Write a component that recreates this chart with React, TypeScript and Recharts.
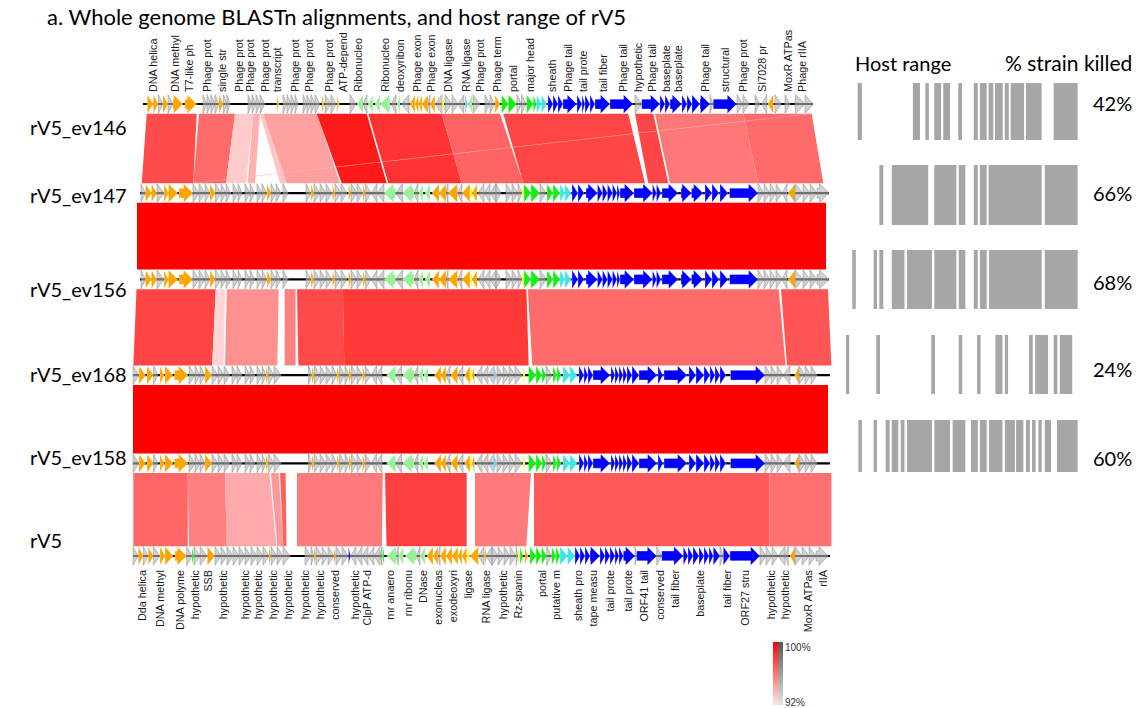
import React from 'react';
import { ComposedChart, XAxis, YAxis, ReferenceArea, Scatter } from 'recharts';

// ---------- genome axis (kb) and row axis ----------
const GENOME_DOMAIN: [number, number] = [0, 140];
const ROW_DOMAIN: [number, number] = [-0.1, 5.1];

const ROW_NAMES = ['rV5_ev146', 'rV5_ev147', 'rV5_ev156', 'rV5_ev168', 'rV5_ev158', 'rV5'];
const ROW_Y = [0, 0.985, 1.94, 3.0, 3.975, 5.0];
const ROW_LABEL_Y = [0.254, 1.007, 2.046, 2.987, 3.905, 4.823];
const BACKBONES: [number, number][] = [[2.6, 136.6], [2.0, 139.8], [2.0, 139.8], [0.6, 140], [0.6, 140], [0.6, 140]];

// gene: [start kb, end kb, strand, colour key]
type Gene = [number, number, number, string];

const GENES_EV146: Gene[] = [
  [3.46, 4.66, 1, 'o'], [4.66, 5.66, 1, 'o'], [5.66, 6.6, 1, 'g'], [6.6, 7.6, 1, 'o'], [7.6, 8.6, 1, 'g'], [8.6, 10.6, 1, 'o'], [11.0, 13.34, 1, 'o'],
  [14.6, 15.4, 1, 'g'], [15.4, 16.2, 1, 'g'], [16.2, 17.0, 1, 'g'], [17.0, 17.8, 1, 'g'], [17.8, 18.66, 1, 'o'], [18.7, 19.4, 1, 'g'], [19.4, 20.0, 1, 'g'],
  [23.6, 24.4, 1, 'g'], [24.4, 25.2, 1, 'g'], [25.2, 26.0, 1, 'g'], [26.0, 27.0, 1, 'g'], [29.4, 29.8, 1, 'o'],
  [30.6, 31.4, 1, 'g'], [31.4, 32.2, 1, 'g'], [32.2, 33.0, 1, 'g'], [33.0, 33.6, 1, 'g'],
  [34.6, 35.4, 1, 'g'], [35.4, 36.2, 1, 'g'], [36.2, 37.0, 1, 'g'], [37.0, 38.0, 1, 'g'], [38.4, 38.8, 1, 'o'], [39.0, 40.2, 1, 'g'], [40.2, 41.2, 1, 'g'], [41.4, 41.8, 1, 'o'],
  [44.0, 45.2, 1, 'g'], [45.4, 46.6, -1, 'L'], [46.6, 47.4, -1, 'g'], [47.6, 48.6, -1, 'L'], [49.0, 50.0, -1, 'L'], [50.0, 52.0, -1, 'L'], [52.2, 53.2, -1, 'g'], [53.4, 54.0, -1, 'L'], [54.2, 55.8, -1, 'g'],
  [56.0, 57.0, -1, 'o'], [57.0, 57.7, -1, 'o'], [57.7, 58.4, -1, 'o'], [58.4, 59.6, -1, 'o'], [59.6, 60.0, -1, 'g'], [60.0, 61.0, -1, 'o'], [61.0, 62.4, -1, 'g'], [62.4, 62.8, -1, 'y'],
  [63.0, 64.4, 1, 'g'], [64.4, 65.6, 1, 'g'], [65.6, 66.8, -1, 'g'], [67.0, 67.6, 1, 'l'], [67.6, 68.4, -1, 'L'], [68.6, 70.0, 1, 'g'], [71.0, 72.0, 1, 'g'], [72.0, 72.8, 1, 'g'], [73.0, 74.0, 1, 'o'],
  [74.34, 75.66, 1, 'G'], [75.66, 77.34, 1, 'G'], [77.4, 78.3, 1, 'g'], [78.3, 79.2, 1, 'g'], [79.34, 80.66, 1, 'G'], [80.66, 81.34, 1, 'G'], [81.34, 82.3, 1, 'c'], [82.3, 83.34, 1, 'c'],
  [83.6, 84.6, 1, 'b'], [84.6, 85.6, 1, 'b'], [85.6, 86.6, 1, 'b'], [86.6, 89.34, 1, 'b'], [89.4, 90.4, 1, 'b'], [90.4, 91.0, 1, 'b'], [91.0, 92.0, 1, 'b'], [92.0, 93.0, 1, 'b'], [93.0, 96.0, 1, 'b'], [96.0, 100.6, 1, 'b'],
  [101.0, 102.34, 1, 'g'], [102.34, 106.0, 1, 'b'], [106.0, 107.0, 1, 'b'], [107.0, 108.0, 1, 'b'], [108.0, 110.34, 1, 'b'], [110.4, 111.4, 1, 'b'], [111.4, 112.4, 1, 'b'], [112.4, 114.0, 1, 'b'], [114.0, 116.0, 1, 'b'], [116.0, 116.6, 1, 'g'], [116.66, 121.34, 1, 'b'],
  [121.4, 122.6, 1, 'g'], [122.6, 123.8, 1, 'g'], [125.0, 126.0, 1, 'g'], [126.34, 127.34, -1, 'g'], [127.54, 128.66, -1, 'o'], [129.0, 130.2, 1, 'g'], [131.0, 132.0, 1, 'g'], [133.0, 135.0, 1, 'g'], [135.0, 136.66, 1, 'g'],
];

const GENES_EV147: Gene[] = [
  [2.2, 3.1, 1, 'g'], [3.1, 4.3, 1, 'o'], [4.3, 5.4, 1, 'o'], [5.4, 6.8, 1, 'g'], [6.8, 7.7, 1, 'o'], [7.7, 9.56, 1, 'o'], [9.8, 12.6, 1, 'o'],
  [12.6, 13.8, 1, 'g'], [13.8, 15.0, 1, 'g'], [15.0, 16.0, 1, 'g'], [16.0, 17.08, 1, 'o'],
  [17.1, 18.2, 1, 'g'], [18.2, 19.2, 1, 'g'], [19.2, 20.2, 1, 'g'], [20.6, 21.6, 1, 'g'], [21.6, 22.4, 1, 'g'], [23.0, 24.0, 1, 'g'], [24.0, 25.0, 1, 'g'], [25.4, 26.4, 1, 'g'], [26.4, 27.4, 1, 'g'], [27.4, 28.2, 1, 'o'],
  [28.2, 29.2, 1, 'g'], [29.2, 30.2, 1, 'g'], [30.6, 31.6, 1, 'g'],
  [35.2, 36.2, 1, 'g'], [36.2, 36.8, 1, 'o'], [36.8, 38.0, 1, 'g'], [38.0, 39.2, 1, 'g'], [39.2, 40.4, 1, 'g'], [40.5, 41.0, 1, 'o'], [41.0, 42.2, 1, 'g'], [42.2, 43.4, 1, 'g'], [43.7, 44.2, 1, 'o'], [44.2, 45.4, 1, 'g'], [45.4, 46.6, 1, 'g'], [46.6, 47.1, 1, 'o'], [47.1, 48.2, 1, 'g'], [48.2, 49.4, -1, 'g'], [49.4, 50.8, -1, 'g'],
  [50.8, 53.12, -1, 'L'], [53.12, 54.5, -1, 'g'], [54.5, 56.8, -1, 'L'], [56.8, 57.6, -1, 'g'], [57.72, 58.6, -1, 'L'], [59.0, 60.0, -1, 'L'],
  [60.4, 61.8, -1, 'o'], [61.8, 63.2, -1, 'o'], [63.2, 63.6, -1, 'g'], [63.6, 65.52, -1, 'o'], [65.52, 66.4, -1, 'g'], [66.4, 68.0, -1, 'o'], [68.0, 68.4, -1, 'y'], [68.4, 69.4, -1, 'o'],
  [69.6, 70.8, -1, 'g'], [70.8, 72.0, -1, 'g'], [72.0, 73.2, -1, 'g'], [73.2, 74.2, 1, 'g'], [75.2, 76.4, 1, 'g'], [76.4, 77.6, 1, 'g'], [77.6, 78.4, 1, 'g'], [78.4, 78.8, 1, 'y'],
  [78.8, 80.2, 1, 'G'], [80.2, 82.0, 1, 'G'], [82.0, 83.2, 1, 'g'], [83.4, 84.6, 1, 'G'], [84.6, 86.0, 1, 'G'], [86.0, 87.0, 1, 'c'], [87.0, 88.2, 1, 'c'],
  [88.4, 89.6, 1, 'b'], [89.6, 90.8, 1, 'b'], [91.2, 93.5, 1, 'b'], [93.5, 94.5, 1, 'b'], [94.5, 95.5, 1, 'b'], [95.5, 96.5, 1, 'b'], [96.5, 97.4, 1, 'b'], [97.4, 98.0, 1, 'b'], [98.0, 100.8, 1, 'b'], [100.8, 104.5, 1, 'b'], [104.5, 105.3, 1, 'b'], [105.3, 106.2, 1, 'b'], [106.4, 109.6, 1, 'b'], [110.2, 112.3, 1, 'b'], [112.3, 114.6, 1, 'b'], [115.0, 116.4, 1, 'b'], [116.4, 117.8, 1, 'b'], [118.0, 119.6, 1, 'b'], [119.92, 125.6, 1, 'b'],
  [125.6, 126.8, 1, 'g'], [126.8, 128.0, 1, 'g'], [128.0, 129.2, 1, 'g'], [129.2, 130.4, 1, 'g'], [130.4, 131.4, -1, 'g'], [131.6, 133.0, -1, 'o'], [133.0, 134.6, 1, 'g'], [134.6, 136.0, 1, 'g'], [136.0, 137.4, 1, 'g'], [137.4, 139.8, 1, 'g'],
];

const GENES_EV168: Gene[] = [
  [0.6, 1.8, 1, 'g'], [1.8, 3.12, 1, 'o'], [3.4, 4.68, 1, 'o'], [4.68, 5.6, 1, 'g'], [6.0, 6.8, 1, 'o'], [7.0, 8.6, 1, 'o'], [8.9, 11.6, 1, 'o'],
  [11.8, 13.0, 1, 'g'], [13.0, 14.0, 1, 'g'], [14.0, 15.0, 1, 'g'], [15.0, 16.4, 1, 'o'],
  [16.4, 17.6, 1, 'g'], [17.6, 18.8, 1, 'g'], [18.8, 20.0, 1, 'g'], [20.4, 21.4, 1, 'g'], [21.4, 22.4, 1, 'g'], [23.0, 24.0, 1, 'g'], [24.0, 25.0, 1, 'g'], [25.4, 26.4, 1, 'g'], [26.4, 27.2, 1, 'g'], [27.2, 27.7, 1, 'o'], [27.7, 28.8, 1, 'g'], [28.8, 30.2, 1, 'g'],
  [35.7, 36.4, 1, 'g'], [36.4, 36.9, 1, 'o'], [36.9, 38.0, 1, 'g'], [38.0, 39.2, 1, 'g'], [39.2, 40.4, 1, 'g'], [40.4, 41.4, 1, 'g'], [41.4, 41.9, 1, 'o'], [41.9, 43.0, 1, 'g'], [43.0, 43.8, 1, 'g'], [43.8, 44.3, 1, 'o'], [44.3, 45.4, 1, 'g'], [45.4, 46.5, 1, 'g'], [46.5, 47.0, 1, 'o'], [47.0, 48.2, 1, 'g'], [48.2, 49.3, -1, 'g'], [49.3, 50.4, -1, 'g'],
  [51.3, 53.12, -1, 'L'], [53.12, 54.3, -1, 'g'], [54.5, 56.8, -1, 'L'], [56.8, 57.6, -1, 'g'], [57.72, 58.6, -1, 'L'], [58.8, 59.56, -1, 'L'],
  [60.9, 62.2, -1, 'o'], [62.2, 63.2, -1, 'o'], [63.2, 64.0, -1, 'g'], [64.14, 65.52, -1, 'o'], [65.52, 66.6, -1, 'g'], [66.9, 68.0, -1, 'o'], [68.0, 68.4, -1, 'y'], [68.4, 68.9, -1, 'o'],
  [69.2, 70.4, -1, 'g'], [70.4, 71.6, -1, 'g'], [71.6, 72.8, -1, 'g'], [72.8, 73.4, 1, 'l'], [73.4, 74.6, 1, 'g'], [74.6, 75.8, 1, 'g'], [75.8, 77.0, 1, 'g'], [77.0, 78.4, 1, 'g'], [78.6, 79.0, 1, 'y'],
  [79.74, 81.2, 1, 'G'], [81.2, 82.4, 1, 'G'], [82.4, 83.2, 1, 'G'], [83.2, 84.4, 1, 'g'], [84.6, 85.4, 1, 'G'], [85.4, 86.2, 1, 'G'], [86.6, 88.0, 1, 'c'], [88.0, 89.4, 1, 'c'],
  [89.8, 90.8, 1, 'b'], [90.8, 91.6, 1, 'b'], [91.6, 92.6, 1, 'b'], [92.6, 96.0, 1, 'b'], [96.2, 97.0, 1, 'b'], [97.0, 97.8, 1, 'b'], [97.8, 98.6, 1, 'b'], [98.6, 99.4, 1, 'b'], [99.4, 100.4, 1, 'b'], [100.4, 101.8, 1, 'b'], [101.8, 105.4, 1, 'b'],
  [105.6, 106.6, 1, 'b'], [106.8, 111.4, 1, 'b'], [111.8, 113.2, 1, 'b'], [113.2, 114.8, 1, 'b'], [114.8, 116.0, 1, 'b'], [116.0, 117.0, 1, 'b'], [117.0, 118.0, 1, 'b'], [118.0, 119.2, 1, 'b'], [120.1, 127.0, 1, 'b'],
  [127.0, 128.2, 1, 'g'], [128.2, 129.4, 1, 'g'], [129.4, 130.6, 1, 'g'], [130.6, 132.0, -1, 'g'], [132.94, 133.8, -1, 'o'], [133.8, 135.0, 1, 'g'], [135.0, 136.2, 1, 'g'], [136.2, 137.4, 1, 'g'],
];

const GENES_RV5: Gene[] = [
  [0.6, 1.6, 1, 'g'], [1.66, 2.66, 1, 'o'], [2.66, 3.6, 1, 'g'], [3.66, 4.66, 1, 'o'], [4.66, 6.0, 1, 'g'], [6.0, 7.0, 1, 'o'], [7.0, 8.66, 1, 'o'], [9.0, 11.34, 1, 'o'],
  [11.34, 12.4, 1, 'g'], [12.4, 12.8, 1, 'G'], [12.8, 14.0, 1, 'g'], [14.0, 15.4, 1, 'g'], [15.46, 17.0, 1, 'o'],
  [17.0, 18.2, 1, 'g'], [18.2, 19.4, 1, 'g'], [19.4, 20.6, 1, 'g'], [20.6, 21.8, 1, 'g'], [21.8, 23.0, 1, 'g'], [23.0, 24.2, 1, 'g'], [24.2, 25.4, 1, 'g'], [25.4, 26.6, 1, 'g'], [26.6, 27.8, 1, 'g'], [27.8, 28.2, 1, 'o'], [28.2, 29.4, 1, 'g'], [29.4, 30.6, 1, 'g'], [30.6, 32.0, 1, 'g'],
  [35.0, 36.2, 1, 'g'], [36.2, 36.8, 1, 'g'], [36.8, 37.2, 1, 'o'], [37.2, 38.4, 1, 'g'], [38.4, 39.6, 1, 'g'], [39.6, 40.8, 1, 'g'], [40.8, 41.2, 1, 'o'], [41.2, 42.4, 1, 'g'], [42.4, 43.6, 1, 'g'], [43.7, 44.1, 1, 'b'], [44.1, 45.2, -1, 'g'], [45.2, 46.4, -1, 'g'], [46.4, 47.6, -1, 'g'], [47.6, 48.8, -1, 'g'], [48.8, 50.0, -1, 'g'], [50.0, 50.4, -1, 'g'], [50.4, 50.8, -1, 'G'],
  [51.34, 53.34, -1, 'L'], [53.34, 53.66, -1, 'g'], [53.66, 54.66, -1, 'L'], [55.0, 57.34, -1, 'L'], [57.34, 58.0, -1, 'g'], [58.0, 59.0, -1, 'L'],
  [59.34, 60.6, -1, 'o'], [60.6, 61.6, -1, 'o'], [61.6, 62.0, -1, 'g'], [62.0, 63.2, -1, 'o'], [63.2, 64.4, -1, 'o'], [64.4, 65.6, -1, 'o'], [65.6, 66.4, -1, 'o'], [66.4, 67.34, -1, 'o'], [67.4, 67.9, -1, 'y'], [68.0, 69.66, -1, 'o'],
  [69.66, 70.8, -1, 'g'], [70.8, 71.2, -1, 'o'], [71.2, 72.4, -1, 'g'], [72.4, 73.6, 1, 'g'], [73.6, 74.8, 1, 'g'], [74.8, 76.0, 1, 'g'], [76.0, 77.2, 1, 'g'], [77.2, 77.6, 1, 'g'], [77.6, 78.0, 1, 'y'], [78.0, 78.6, 1, 'G'], [79.0, 79.6, 1, 'o'],
  [80.0, 81.2, 1, 'G'], [81.2, 82.3, 1, 'G'], [82.3, 83.34, 1, 'G'], [83.34, 84.34, 1, 'g'], [84.34, 85.2, 1, 'G'], [85.2, 86.0, 1, 'G'], [86.0, 87.5, 1, 'c'], [87.5, 89.0, 1, 'c'],
  [89.0, 90.0, 1, 'b'], [90.0, 91.0, 1, 'b'], [91.0, 92.0, 1, 'b'], [92.0, 94.0, 1, 'b'], [94.0, 95.0, 1, 'b'], [95.0, 96.0, 1, 'b'], [96.0, 97.0, 1, 'b'], [97.0, 97.8, 1, 'b'], [97.8, 98.66, 1, 'b'], [98.66, 101.0, 1, 'b'], [101.0, 101.34, 1, 'g'], [101.34, 105.34, 1, 'b'], [105.34, 106.34, 1, 'g'], [106.34, 110.66, 1, 'b'],
  [110.66, 111.6, 1, 'b'], [111.6, 112.6, 1, 'b'], [112.6, 113.8, 1, 'b'], [113.8, 114.8, 1, 'b'], [114.8, 115.8, 1, 'b'], [115.8, 116.66, 1, 'b'], [116.66, 118.0, 1, 'b'], [118.0, 118.6, 1, 'g'], [118.66, 120.0, 1, 'b'], [120.0, 126.0, 1, 'b'],
  [126.0, 127.2, 1, 'g'], [127.2, 128.4, 1, 'g'], [128.4, 129.6, 1, 'g'], [129.6, 131.0, -1, 'g'], [131.0, 131.66, -1, 'g'], [132.0, 133.0, -1, 'o'], [133.0, 134.4, 1, 'g'], [134.4, 135.8, 1, 'g'], [135.8, 137.2, 1, 'g'], [137.2, 139.66, 1, 'g'],
];

const ROW_GENES: Gene[][] = [GENES_EV146, GENES_EV147, GENES_EV147, GENES_EV168, GENES_EV168, GENES_RV5];

const GENE_COLORS: Record<string, string> = {
  o: '#ffa500', g: '#b4b4b4', L: '#98f098', G: '#11f011', c: '#3ae6e6', b: '#0000ff', y: '#ffff00', l: '#87c8f0',
};

// alignment band segment: [upper start, upper end, lower start, lower end, colour]
type Band = [number, number, number, number, string];

const BANDS_146_147: Band[] = [
  [3.34, 13.34, 2.34, 12.66, '#ff4d4d'],
  [13.8, 21.0, 12.66, 19.2, '#ff6b6b'],
  [21.0, 24.66, 19.2, 23.2, '#ffcccc'],
  [24.66, 26.0, 23.54, 25.0, '#ffb0b0'],
  [26.0, 26.66, 30.0, 31.34, '#ffc4c4'],
  [26.66, 37.34, 31.34, 42.0, '#ffa0a0'],
  [37.34, 47.34, 42.34, 51.34, '#ff1a1a'],
  [47.66, 62.34, 51.66, 66.34, '#ff3333'],
  [62.34, 74.0, 66.34, 78.66, '#ff6464'],
  [74.66, 99.66, 78.66, 103.0, '#ff4646'],
  [101.0, 104.66, 103.66, 107.66, '#ff4646'],
  [105.0, 122.66, 108.0, 125.66, '#ff7878'],
  [122.66, 136.34, 125.66, 138.66, '#ff6b6b'],
  [135.6, 136.34, 12.0, 12.6, '#ffb8b8'],
];
const BANDS_147_156: Band[] = [[1.4, 139.2, 1.4, 139.2, '#ff0000']];
const BANDS_156_168: Band[] = [
  [1.3, 17.16, 0.66, 16.44, '#ff4444'],
  [17.16, 19.0, 16.44, 18.72, '#ffd5d5'],
  [19.36, 29.74, 19.0, 29.46, '#ff9090'],
  [30.92, 33.12, 30.92, 33.12, '#ff8080'],
  [33.4, 42.58, 33.68, 42.86, '#ff4a4a'],
  [42.58, 79.28, 42.86, 79.74, '#ff3838'],
  [79.56, 129.74, 80.46, 131.12, '#ff6b6b'],
  [130.2, 139.6, 131.4, 140.28, '#ff5555'],
];
const BANDS_168_158: Band[] = [[0.6, 139.6, 0.6, 139.6, '#ff0000']];
const BANDS_158_RV5: Band[] = [
  [0.66, 11.56, 0.66, 11.56, '#ff6666'],
  [11.56, 19.0, 11.8, 19.36, '#ff8080'],
  [19.0, 27.9, 19.36, 29.28, '#ffaaaa'],
  [28.18, 29.74, 29.46, 30.66, '#ff9999'],
  [30.0, 31.12, 30.66, 31.3, '#ff6060'],
  [33.4, 50.56, 33.4, 50.38, '#ff7a7a'],
  [51.0, 67.34, 51.3, 67.34, '#ff4040'],
  [69.0, 80.2, 69.0, 79.28, '#ff7a7a'],
  [80.8, 127.9, 80.8, 127.9, '#ff5a5a'],
  [127.9, 140.28, 127.9, 140.28, '#ff7070'],
];
const BAND_SETS: Band[][] = [BANDS_146_147, BANDS_147_156, BANDS_156_168, BANDS_168_158, BANDS_158_RV5];

// ---------- gene name labels ----------
const TOP_LABEL_X = [4.54, 9.0, 11.86, 15.46, 18.34, 21.8, 24.0, 27.0, 29.46, 33.0, 35.86, 39.86, 42.66, 45.66, 51.0, 54.0, 57.34, 60.14, 63.66, 67.2, 70.0, 73.46, 76.66, 80.0, 84.34, 87.66, 90.66, 94.66, 98.66, 101.66, 104.34, 107.14, 109.66, 115.0, 119.0, 122.54, 126.34, 131.66, 134.34];
const TOP_LABELS = ['DNA helica', 'DNA methyl', 'T7-like ph', 'Phage prot', 'single str', 'Phage prot', 'Phage prot', 'Phage prot', 'transcript', 'Phage prot', 'Phage prot', 'Phage prot', 'ATP-depend', 'Ribonucleo', 'Ribonucleo', 'deoxyribon', 'Phage exon', 'Phage exon', 'DNA ligase', 'RNA ligase', 'Phage prot', 'Phage term', 'portal', 'major head', 'sheath', 'Phage tail', 'tail prote', 'tail fiber', 'Phage tail', 'hypothetic', 'Phage tail', 'baseplate', 'baseplate', 'Phage tail', 'structural', 'Phage prot', 'SI7028 pr', 'MoxR ATPas', 'Phage rIIA'];
const BOTTOM_LABEL_X = [2.34, 6.0, 10.0, 13.0, 15.66, 18.66, 23.0, 25.66, 28.54, 31.66, 35.0, 38.0, 41.0, 45.0, 47.34, 52.0, 55.66, 58.66, 61.66, 64.66, 67.66, 71.2, 74.54, 77.66, 82.34, 85.2, 89.54, 92.66, 96.0, 99.66, 102.8, 106.0, 109.0, 114.0, 119.34, 123.0, 128.2, 131.0, 135.66, 138.66];
const BOTTOM_LABELS = ['Dda helica', 'DNA methyl', 'DNA polyme', 'hypothetic', 'SSB', 'hypothetic', 'hypothetic', 'hypothetic', 'hypothetic', 'hypothetic', 'hypothetic', 'hypothetic', 'conserved', 'hypothetic', 'ClpP ATP-d', 'rnr anaero', 'rnr ribonu', 'DNase', 'exonucleas', 'exodeoxyri', 'ligase', 'RNA ligase', 'hypothetic', 'Rz-spanin', 'portal', 'putative m', 'sheath pro', 'tape measu', 'tail prote', 'tail prote', 'ORF41 tail', 'conserved', 'tail fiber', 'baseplate', 'tail fiber', 'ORF27 stru', 'hypothetic', 'hypothetic', 'MoxR ATPas', 'rIIA'];

// ---------- host range ----------
const HOST_DOMAIN: [number, number] = [0, 100];
const HOST_ROW_BOUNDS: [number, number][] = [[-0.232, 0.398], [0.675, 1.338], [1.615, 2.268], [2.555, 3.208], [3.496, 4.071]];
const HOST_EV146: [number, number][] = [[5.4, 7.2], [28.9, 31.9], [34.2, 35.7], [38.0, 40.9], [41.8, 44.7], [48.2, 49.8], [54.8, 56.5], [57.4, 60.3], [61.1, 63.1], [63.8, 67.1], [68.0, 69.7], [70.5, 76.2], [77.0, 83.7], [88.8, 99.0]];
const HOST_EV147: [number, number][] = [[14.6, 16.3], [19.9, 35.4], [38.0, 47.4], [48.4, 51.2], [54.8, 56.5], [57.4, 60.3], [61.1, 83.7], [85.0, 99.0]];
const HOST_EV156: [number, number][] = [[3.1, 4.6], [12.2, 13.6], [14.6, 16.3], [19.9, 25.3], [26.4, 37.0], [38.0, 47.4], [48.4, 51.2], [54.8, 56.5], [57.4, 60.3], [61.3, 83.7], [85.0, 99.0]];
const HOST_EV168: [number, number][] = [[0.4, 1.8], [13.3, 14.9], [36.7, 38.3], [48.4, 49.9], [56.2, 57.7], [64.0, 67.0], [68.0, 69.4], [78.3, 79.9], [80.9, 86.4], [88.8, 90.4], [91.4, 96.7]];
const HOST_EV158: [number, number][] = [[5.7, 7.2], [12.2, 13.6], [17.3, 19.0], [19.9, 22.7], [23.7, 25.3], [26.4, 37.0], [38.0, 44.7], [45.8, 51.2], [53.6, 56.5], [57.4, 60.3], [61.3, 67.0], [68.0, 72.3], [72.8, 75.9], [77.0, 78.7], [79.6, 81.1], [82.3, 83.7], [85.0, 87.7], [90.2, 99.0]];
const HOST_ROWS = [HOST_EV146, HOST_EV147, HOST_EV156, HOST_EV168, HOST_EV158];
const PCT_LABELS = ['42%', '66%', '68%', '24%', '60%'];
const PCT_Y = [-0.011, 0.985, 1.969, 2.931, 3.916];

const GENE_HALF = 0.104;
const BAND_GAP = 0.108;
const LABEL_FONT = '"Liberation Sans", Arial, sans-serif';
const MAIN_FONT = 'Lato, "Open Sans", sans-serif';

// anchor points (genome ends, strip ends) that give each chart its data extent
const GENOME_ENDS = BACKBONES.flatMap((bb, r) => [{ pos: bb[0], row: ROW_Y[r] }, { pos: bb[1], row: ROW_Y[r] }]);
const HOST_ENDS = HOST_ROWS.map((row, r) => ({ pos: row[row.length - 1][1], row: (HOST_ROW_BOUNDS[r][0] + HOST_ROW_BOUNDS[r][1]) / 2 }));

const Nothing = () => <g />;

const GeneArrow = (p: any) => {
  const { x, y, width, height, strand, color } = p;
  const w = Math.max(width, 0.6);
  const h = height;
  const head = Math.min(w, h * 0.5);
  const t = y + h * 0.24;
  const b = y + h * 0.76;
  const m = y + h / 2;
  let pts: number[][];
  if (strand > 0) {
    pts = [[x, t], [x + w - head, t], [x + w - head, y], [x + w, m], [x + w - head, y + h], [x + w - head, b], [x, b]];
  } else {
    pts = [[x + w, t], [x + head, t], [x + head, y], [x, m], [x + head, y + h], [x + head, b], [x + w, b]];
  }
  const isGray = color === GENE_COLORS.g;
  return (
    <polygon
      points={pts.map((q) => q.join(',')).join(' ')}
      fill={color}
      fillOpacity={isGray ? 0.62 : 1}
      stroke={isGray ? '#8a8a8a' : '#ffffff'}
      strokeWidth={isGray ? 0.5 : 0.3}
    />
  );
};

const BandShape = (p: any) => {
  const { x, y, width, height, seg } = p;
  const lo = Math.min(seg[0], seg[2]);
  const hi = Math.max(seg[1], seg[3]);
  const f = (v: number) => x + ((v - lo) / (hi - lo)) * width;
  const pts = [[f(seg[0]), y], [f(seg[1]), y], [f(seg[3]), y + height], [f(seg[2]), y + height]];
  return <polygon points={pts.map((q) => q.join(',')).join(' ')} fill={seg[4]} stroke="none" />;
};

const TopTick = (p: any) => {
  const i = TOP_LABEL_X.indexOf(p.payload.value);
  return (
    <text x={p.x} y={p.y} transform={`rotate(-90 ${p.x} ${p.y})`} textAnchor="start" dominantBaseline="central"
      fontSize={10.8} fontFamily={LABEL_FONT} fill="#1a1a1a">
      {TOP_LABELS[i]}
    </text>
  );
};

const BottomTick = (p: any) => {
  const i = BOTTOM_LABEL_X.indexOf(p.payload.value);
  return (
    <text x={p.x} y={p.y} transform={`rotate(-90 ${p.x} ${p.y})`} textAnchor="end" dominantBaseline="central"
      fontSize={10.8} fontFamily={LABEL_FONT} fill="#1a1a1a">
      {BOTTOM_LABELS[i]}
    </text>
  );
};

const RowTick = (p: any) => {
  const i = ROW_LABEL_Y.indexOf(p.payload.value);
  return (
    <text x={p.x - 100} y={p.y} textAnchor="start" dominantBaseline="central" fontSize={20} fontFamily={MAIN_FONT} fill="#000">
      {ROW_NAMES[i]}
    </text>
  );
};

const PctTick = (p: any) => {
  const i = PCT_Y.indexOf(p.payload.value);
  return (
    <text x={p.x} y={p.y} textAnchor="start" dominantBaseline="central" fontSize={20} fontFamily={MAIN_FONT} fill="#000">
      {PCT_LABELS[i]}
    </text>
  );
};

export default function App() {
  const bandAreas: React.ReactNode[] = [];
  BAND_SETS.forEach((set, r) => {
    const yTop = ROW_Y[r] + BAND_GAP;
    const yBot = ROW_Y[r + 1] - BAND_GAP;
    set.forEach((seg, k) => {
      bandAreas.push(
        <ReferenceArea key={`band-${r}-${k}`} xAxisId="bottom" x1={Math.min(seg[0], seg[2])} x2={Math.max(seg[1], seg[3])}
          y1={yTop} y2={yBot} ifOverflow="visible" shape={(p: any) => <BandShape {...p} seg={seg} />} />
      );
    });
  });

  const backboneAreas = BACKBONES.map((bb, r) => (
    <ReferenceArea key={`bb-${r}`} xAxisId="bottom" x1={bb[0]} x2={bb[1]} y1={ROW_Y[r] - 0.012} y2={ROW_Y[r] + 0.012}
      ifOverflow="visible" fill="#000" fillOpacity={1} stroke="none" />
  ));

  const geneAreas: React.ReactNode[] = [];
  ROW_GENES.forEach((genes, r) => {
    genes.forEach((g, k) => {
      geneAreas.push(
        <ReferenceArea key={`gene-${r}-${k}`} xAxisId="bottom" x1={g[0]} x2={g[1]} y1={ROW_Y[r] - GENE_HALF} y2={ROW_Y[r] + GENE_HALF}
          ifOverflow="visible" shape={(p: any) => <GeneArrow {...p} strand={g[2]} color={GENE_COLORS[g[3]]} />} />
      );
    });
  });

  const hostAreas: React.ReactNode[] = [];
  HOST_ROWS.forEach((row, r) => {
    row.forEach((iv, k) => {
      hostAreas.push(
        <ReferenceArea key={`host-${r}-${k}`} x1={iv[0]} x2={iv[1]} y1={HOST_ROW_BOUNDS[r][0]} y2={HOST_ROW_BOUNDS[r][1]}
          ifOverflow="visible" fill="#a6a6a6" fillOpacity={1} stroke="none" />
      );
    });
  });

  return (
    <div style={{ position: 'absolute', left: 0, top: 0, width: 1141, height: 708, background: '#fff', overflow: 'hidden' }}>
      <div style={{ position: 'absolute', left: 0, top: 0 }}>
        <ComposedChart width={840} height={708} data={GENOME_ENDS} margin={{ top: 30, right: 10, bottom: 73, left: 30 }}>
          <XAxis xAxisId="top" dataKey="pos" orientation="top" type="number" domain={GENOME_DOMAIN} allowDataOverflow ticks={TOP_LABEL_X}
            interval={0} height={65} axisLine={false} tickLine={false} tickSize={0} tickMargin={3} tick={(p: any) => <TopTick {...p} />} />
          <XAxis xAxisId="bottom" dataKey="pos" orientation="bottom" type="number" domain={GENOME_DOMAIN} allowDataOverflow ticks={BOTTOM_LABEL_X}
            interval={0} height={70} axisLine={false} tickLine={false} tickSize={0} tickMargin={5} tick={(p: any) => <BottomTick {...p} />} />
          <YAxis dataKey="row" type="number" domain={ROW_DOMAIN} allowDataOverflow reversed ticks={ROW_LABEL_Y} interval={0} width={100}
            axisLine={false} tickLine={false} tickSize={0} tickMargin={0} tick={(p: any) => <RowTick {...p} />} />
          <Scatter xAxisId="bottom" dataKey="row" isAnimationActive={false} shape={<Nothing />} />
          {bandAreas}
          {backboneAreas}
          {geneAreas}
        </ComposedChart>
      </div>
      <div style={{ position: 'absolute', left: 840, top: 0 }}>
        <ComposedChart width={301} height={708} data={HOST_ENDS} margin={{ top: 95, right: 0, bottom: 143, left: 5 }}>
          <XAxis dataKey="pos" type="number" domain={HOST_DOMAIN} allowDataOverflow hide />
          <YAxis dataKey="row" type="number" orientation="right" domain={ROW_DOMAIN} allowDataOverflow reversed ticks={PCT_Y} interval={0} width={61}
            axisLine={false} tickLine={false} tickSize={0} tickMargin={13} tick={(p: any) => <PctTick {...p} />} />
          <Scatter dataKey="row" isAnimationActive={false} shape={<Nothing />} />
          {hostAreas}
        </ComposedChart>
      </div>
      <svg width={1141} height={708} style={{ position: 'absolute', left: 0, top: 0, pointerEvents: 'none' }}>
        <defs>
          <linearGradient id="redScale" x1="0" y1="0" x2="0" y2="1">
            <stop offset="0%" stopColor="#ff0000" />
            <stop offset="100%" stopColor="#ffe6e6" />
          </linearGradient>
          <linearGradient id="grayScale" x1="0" y1="0" x2="0" y2="1">
            <stop offset="0%" stopColor="#555555" />
            <stop offset="100%" stopColor="#e6e6e6" />
          </linearGradient>
        </defs>
        <text x={47} y={25} fontSize={22} fontFamily={MAIN_FONT} fill="#000">a. Whole genome BLASTn alignments, and host range of rV5</text>
        <text x={855} y={71} fontSize={20} fontFamily={MAIN_FONT} fill="#000">Host range</text>
        <text x={1005} y={71} fontSize={21} fontFamily={MAIN_FONT} fill="#000">% strain killed</text>
        <rect x={773} y={642} width={5} height={63} fill="url(#redScale)" />
        <rect x={778} y={642} width={5} height={63} fill="url(#grayScale)" />
        <text x={785} y={647} fontSize={10} fontFamily={LABEL_FONT} fill="#333" dominantBaseline="central">100%</text>
        <text x={785} y={702} fontSize={10} fontFamily={LABEL_FONT} fill="#333" dominantBaseline="central">92%</text>
      </svg>
    </div>
  );
}
